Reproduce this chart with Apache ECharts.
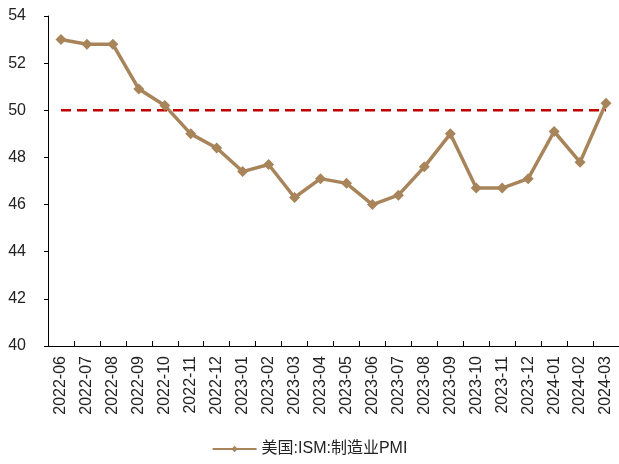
<!DOCTYPE html>
<html>
<head>
<meta charset="utf-8">
<script src="https://cdn.jsdelivr.net/npm/echarts@6/dist/echarts.min.js"></script>
<style>
  html, body { margin: 0; padding: 0; background: #fff; }
  #chart { width: 619px; height: 464px; }
</style>
</head>
<body>
<div id="chart"></div>
<script>
// Monthly categories
const months = [
  '2022-06', '2022-07', '2022-08', '2022-09', '2022-10', '2022-11', '2022-12',
  '2023-01', '2023-02', '2023-03', '2023-04', '2023-05', '2023-06', '2023-07',
  '2023-08', '2023-09', '2023-10', '2023-11', '2023-12', '2024-01', '2024-02', '2024-03'
];

// ISM manufacturing PMI
const ismPmi = [
  53.0, 52.8, 52.8, 50.9, 50.2, 49.0, 48.4,
  47.4, 47.7, 46.3, 47.1, 46.9, 46.0, 46.4,
  47.6, 49.0, 46.7, 46.7, 47.1, 49.1, 47.8, 50.3
];

// Expansion / contraction threshold
const threshold = [
  50, 50, 50, 50, 50, 50, 50, 50, 50, 50, 50,
  50, 50, 50, 50, 50, 50, 50, 50, 50, 50, 50
];

const seriesName = '美国:ISM:制造业PMI';

// Y axis range
const yMin = 40;
const yMax = 54;
const yStep = 2;

const fontLatin = '"Liberation Sans", Arial, "Noto Sans CJK SC", sans-serif';

const chart = echarts.init(document.getElementById('chart'), null, { renderer: 'canvas' });

chart.setOption({
  animation: false,
  backgroundColor: '#ffffff',
  grid: { left: 48, right: 0, top: 16, bottom: 118, containLabel: false },
  legend: {
    data: [seriesName],
    bottom: 2,
    left: 'center',
    itemWidth: 44,
    itemHeight: 8,
    itemGap: 10,
    textStyle: {
      fontFamily: fontLatin,
      fontSize: 16,
      color: '#222'
    }
  },
  xAxis: {
    type: 'category',
    data: months,
    boundaryGap: true,
    axisLine: { lineStyle: { color: '#000', width: 1 } },
    axisTick: { show: true, inside: true, length: 5, alignWithLabel: false, lineStyle: { color: '#000' } },
    axisLabel: {
      rotate: 90,
      interval: 0,
      margin: 10,
      fontSize: 16,
      color: '#222',
      fontFamily: fontLatin
    },
    splitLine: { show: false }
  },
  yAxis: {
    type: 'value',
    min: yMin,
    max: yMax,
    interval: yStep,
    axisLine: { show: true, lineStyle: { color: '#000', width: 1 } },
    axisTick: { show: true, inside: false, length: 4, lineStyle: { color: '#000' } },
    axisLabel: {
      margin: 22,
      fontSize: 16,
      color: '#222',
      fontFamily: fontLatin
    },
    splitLine: { show: false }
  },
  series: [
    {
      name: seriesName,
      type: 'line',
      data: ismPmi,
      symbol: 'diamond',
      symbolSize: 11,
      lineStyle: { color: '#A8845A', width: 3.5 },
      itemStyle: { color: '#A8845A' },
      z: 3
    },
    {
      name: '50',
      type: 'line',
      data: threshold,
      symbol: 'none',
      lineStyle: { color: '#C00000', width: 2.5, type: [10, 6] },
      silent: true,
      z: 2
    }
  ]
});
</script>
</body>
</html>
